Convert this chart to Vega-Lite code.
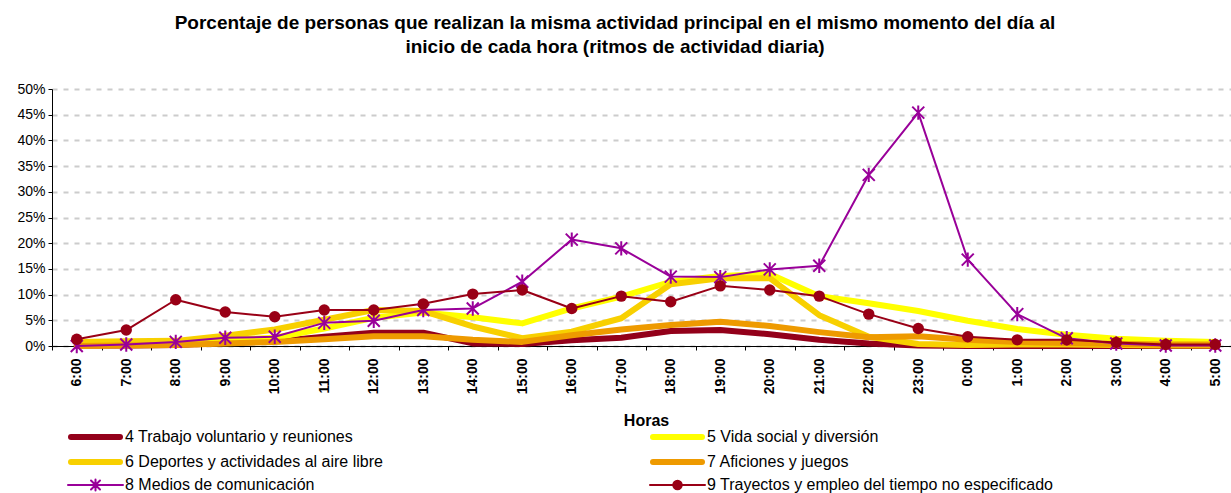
{
  "$schema": "https://vega.github.io/schema/vega-lite/v6.json",
  "width": 1188,
  "height": 257,
  "padding": {"left": 16, "top": 14, "right": 0, "bottom": 0},
  "autosize": {"type": "pad"},
  "background": "#ffffff",
  "title": {
    "text": ["Porcentaje de personas que realizan la misma actividad principal en el mismo momento del día al", "inicio de cada hora (ritmos de actividad diaria)"],
    "font": "Liberation Sans",
    "fontSize": 19,
    "fontWeight": "bold",
    "lineHeight": 24,
    "color": "#000000",
    "dx": -31,
    "offset": 25
  },
  "config": {"view": {"stroke": null}, "font": "Liberation Sans"},
  "data": {"values": [
    {"h":"6:00","s":"4 Trabajo voluntario y reuniones","v":0.1},
    {"h":"7:00","s":"4 Trabajo voluntario y reuniones","v":0.1},
    {"h":"8:00","s":"4 Trabajo voluntario y reuniones","v":0.2},
    {"h":"9:00","s":"4 Trabajo voluntario y reuniones","v":0.6},
    {"h":"10:00","s":"4 Trabajo voluntario y reuniones","v":0.9},
    {"h":"11:00","s":"4 Trabajo voluntario y reuniones","v":1.8},
    {"h":"12:00","s":"4 Trabajo voluntario y reuniones","v":2.6},
    {"h":"13:00","s":"4 Trabajo voluntario y reuniones","v":2.6},
    {"h":"14:00","s":"4 Trabajo voluntario y reuniones","v":0.5},
    {"h":"15:00","s":"4 Trabajo voluntario y reuniones","v":0.4},
    {"h":"16:00","s":"4 Trabajo voluntario y reuniones","v":1.1},
    {"h":"17:00","s":"4 Trabajo voluntario y reuniones","v":1.6},
    {"h":"18:00","s":"4 Trabajo voluntario y reuniones","v":2.9},
    {"h":"19:00","s":"4 Trabajo voluntario y reuniones","v":3.1},
    {"h":"20:00","s":"4 Trabajo voluntario y reuniones","v":2.3},
    {"h":"21:00","s":"4 Trabajo voluntario y reuniones","v":1.2},
    {"h":"22:00","s":"4 Trabajo voluntario y reuniones","v":0.5},
    {"h":"23:00","s":"4 Trabajo voluntario y reuniones","v":0.1},
    {"h":"0:00","s":"4 Trabajo voluntario y reuniones","v":0.0},
    {"h":"1:00","s":"4 Trabajo voluntario y reuniones","v":0.0},
    {"h":"2:00","s":"4 Trabajo voluntario y reuniones","v":0.0},
    {"h":"3:00","s":"4 Trabajo voluntario y reuniones","v":0.0},
    {"h":"4:00","s":"4 Trabajo voluntario y reuniones","v":0.0},
    {"h":"5:00","s":"4 Trabajo voluntario y reuniones","v":0.0},
    {"h":"6:00","s":"5 Vida social y diversión","v":0.5},
    {"h":"7:00","s":"5 Vida social y diversión","v":0.7},
    {"h":"8:00","s":"5 Vida social y diversión","v":0.9},
    {"h":"9:00","s":"5 Vida social y diversión","v":1.2},
    {"h":"10:00","s":"5 Vida social y diversión","v":1.6},
    {"h":"11:00","s":"5 Vida social y diversión","v":3.4},
    {"h":"12:00","s":"5 Vida social y diversión","v":5.5},
    {"h":"13:00","s":"5 Vida social y diversión","v":6.5},
    {"h":"14:00","s":"5 Vida social y diversión","v":5.6},
    {"h":"15:00","s":"5 Vida social y diversión","v":4.4},
    {"h":"16:00","s":"5 Vida social y diversión","v":7.3},
    {"h":"17:00","s":"5 Vida social y diversión","v":9.6},
    {"h":"18:00","s":"5 Vida social y diversión","v":12.5},
    {"h":"19:00","s":"5 Vida social y diversión","v":13.6},
    {"h":"20:00","s":"5 Vida social y diversión","v":14.0},
    {"h":"21:00","s":"5 Vida social y diversión","v":9.7},
    {"h":"22:00","s":"5 Vida social y diversión","v":8.3},
    {"h":"23:00","s":"5 Vida social y diversión","v":6.8},
    {"h":"0:00","s":"5 Vida social y diversión","v":4.9},
    {"h":"1:00","s":"5 Vida social y diversión","v":3.3},
    {"h":"2:00","s":"5 Vida social y diversión","v":2.2},
    {"h":"3:00","s":"5 Vida social y diversión","v":1.4},
    {"h":"4:00","s":"5 Vida social y diversión","v":1.0},
    {"h":"5:00","s":"5 Vida social y diversión","v":0.8},
    {"h":"6:00","s":"6 Deportes y actividades al aire libre","v":0.8},
    {"h":"7:00","s":"6 Deportes y actividades al aire libre","v":0.9},
    {"h":"8:00","s":"6 Deportes y actividades al aire libre","v":1.0},
    {"h":"9:00","s":"6 Deportes y actividades al aire libre","v":2.0},
    {"h":"10:00","s":"6 Deportes y actividades al aire libre","v":3.2},
    {"h":"11:00","s":"6 Deportes y actividades al aire libre","v":5.1},
    {"h":"12:00","s":"6 Deportes y actividades al aire libre","v":7.0},
    {"h":"13:00","s":"6 Deportes y actividades al aire libre","v":6.8},
    {"h":"14:00","s":"6 Deportes y actividades al aire libre","v":3.8},
    {"h":"15:00","s":"6 Deportes y actividades al aire libre","v":1.5},
    {"h":"16:00","s":"6 Deportes y actividades al aire libre","v":2.8},
    {"h":"17:00","s":"6 Deportes y actividades al aire libre","v":5.4},
    {"h":"18:00","s":"6 Deportes y actividades al aire libre","v":12.0},
    {"h":"19:00","s":"6 Deportes y actividades al aire libre","v":13.2},
    {"h":"20:00","s":"6 Deportes y actividades al aire libre","v":13.2},
    {"h":"21:00","s":"6 Deportes y actividades al aire libre","v":6.0},
    {"h":"22:00","s":"6 Deportes y actividades al aire libre","v":1.8},
    {"h":"23:00","s":"6 Deportes y actividades al aire libre","v":0.4},
    {"h":"0:00","s":"6 Deportes y actividades al aire libre","v":0.2},
    {"h":"1:00","s":"6 Deportes y actividades al aire libre","v":0.3},
    {"h":"2:00","s":"6 Deportes y actividades al aire libre","v":0.3},
    {"h":"3:00","s":"6 Deportes y actividades al aire libre","v":0.2},
    {"h":"4:00","s":"6 Deportes y actividades al aire libre","v":0.1},
    {"h":"5:00","s":"6 Deportes y actividades al aire libre","v":0.1},
    {"h":"6:00","s":"7 Aficiones y juegos","v":0.0},
    {"h":"7:00","s":"7 Aficiones y juegos","v":0.1},
    {"h":"8:00","s":"7 Aficiones y juegos","v":0.2},
    {"h":"9:00","s":"7 Aficiones y juegos","v":0.5},
    {"h":"10:00","s":"7 Aficiones y juegos","v":0.8},
    {"h":"11:00","s":"7 Aficiones y juegos","v":1.3},
    {"h":"12:00","s":"7 Aficiones y juegos","v":1.9},
    {"h":"13:00","s":"7 Aficiones y juegos","v":1.9},
    {"h":"14:00","s":"7 Aficiones y juegos","v":1.2},
    {"h":"15:00","s":"7 Aficiones y juegos","v":0.8},
    {"h":"16:00","s":"7 Aficiones y juegos","v":2.1},
    {"h":"17:00","s":"7 Aficiones y juegos","v":3.2},
    {"h":"18:00","s":"7 Aficiones y juegos","v":4.1},
    {"h":"19:00","s":"7 Aficiones y juegos","v":4.7},
    {"h":"20:00","s":"7 Aficiones y juegos","v":3.9},
    {"h":"21:00","s":"7 Aficiones y juegos","v":2.7},
    {"h":"22:00","s":"7 Aficiones y juegos","v":1.7},
    {"h":"23:00","s":"7 Aficiones y juegos","v":1.9},
    {"h":"0:00","s":"7 Aficiones y juegos","v":1.2},
    {"h":"1:00","s":"7 Aficiones y juegos","v":0.8},
    {"h":"2:00","s":"7 Aficiones y juegos","v":0.6},
    {"h":"3:00","s":"7 Aficiones y juegos","v":0.4},
    {"h":"4:00","s":"7 Aficiones y juegos","v":0.3},
    {"h":"5:00","s":"7 Aficiones y juegos","v":0.3},
    {"h":"6:00","s":"8 Medios de comunicación","v":0.0},
    {"h":"7:00","s":"8 Medios de comunicación","v":0.3},
    {"h":"8:00","s":"8 Medios de comunicación","v":0.8},
    {"h":"9:00","s":"8 Medios de comunicación","v":1.6},
    {"h":"10:00","s":"8 Medios de comunicación","v":1.8},
    {"h":"11:00","s":"8 Medios de comunicación","v":4.5},
    {"h":"12:00","s":"8 Medios de comunicación","v":4.9},
    {"h":"13:00","s":"8 Medios de comunicación","v":7.0},
    {"h":"14:00","s":"8 Medios de comunicación","v":7.3},
    {"h":"15:00","s":"8 Medios de comunicación","v":12.5},
    {"h":"16:00","s":"8 Medios de comunicación","v":20.7},
    {"h":"17:00","s":"8 Medios de comunicación","v":19.0},
    {"h":"18:00","s":"8 Medios de comunicación","v":13.5},
    {"h":"19:00","s":"8 Medios de comunicación","v":13.4},
    {"h":"20:00","s":"8 Medios de comunicación","v":14.9},
    {"h":"21:00","s":"8 Medios de comunicación","v":15.6},
    {"h":"22:00","s":"8 Medios de comunicación","v":33.3},
    {"h":"23:00","s":"8 Medios de comunicación","v":45.4},
    {"h":"0:00","s":"8 Medios de comunicación","v":16.8},
    {"h":"1:00","s":"8 Medios de comunicación","v":6.2},
    {"h":"2:00","s":"8 Medios de comunicación","v":1.5},
    {"h":"3:00","s":"8 Medios de comunicación","v":0.5},
    {"h":"4:00","s":"8 Medios de comunicación","v":0.1},
    {"h":"5:00","s":"8 Medios de comunicación","v":0.1},
    {"h":"6:00","s":"9 Trayectos y empleo del tiempo no especificado","v":1.3},
    {"h":"7:00","s":"9 Trayectos y empleo del tiempo no especificado","v":3.1},
    {"h":"8:00","s":"9 Trayectos y empleo del tiempo no especificado","v":9.0},
    {"h":"9:00","s":"9 Trayectos y empleo del tiempo no especificado","v":6.6},
    {"h":"10:00","s":"9 Trayectos y empleo del tiempo no especificado","v":5.7},
    {"h":"11:00","s":"9 Trayectos y empleo del tiempo no especificado","v":7.0},
    {"h":"12:00","s":"9 Trayectos y empleo del tiempo no especificado","v":7.0},
    {"h":"13:00","s":"9 Trayectos y empleo del tiempo no especificado","v":8.2},
    {"h":"14:00","s":"9 Trayectos y empleo del tiempo no especificado","v":10.1},
    {"h":"15:00","s":"9 Trayectos y empleo del tiempo no especificado","v":10.9},
    {"h":"16:00","s":"9 Trayectos y empleo del tiempo no especificado","v":7.3},
    {"h":"17:00","s":"9 Trayectos y empleo del tiempo no especificado","v":9.7},
    {"h":"18:00","s":"9 Trayectos y empleo del tiempo no especificado","v":8.6},
    {"h":"19:00","s":"9 Trayectos y empleo del tiempo no especificado","v":11.7},
    {"h":"20:00","s":"9 Trayectos y empleo del tiempo no especificado","v":10.9},
    {"h":"21:00","s":"9 Trayectos y empleo del tiempo no especificado","v":9.7},
    {"h":"22:00","s":"9 Trayectos y empleo del tiempo no especificado","v":6.2},
    {"h":"23:00","s":"9 Trayectos y empleo del tiempo no especificado","v":3.4},
    {"h":"0:00","s":"9 Trayectos y empleo del tiempo no especificado","v":1.8},
    {"h":"1:00","s":"9 Trayectos y empleo del tiempo no especificado","v":1.2},
    {"h":"2:00","s":"9 Trayectos y empleo del tiempo no especificado","v":1.2},
    {"h":"3:00","s":"9 Trayectos y empleo del tiempo no especificado","v":0.7},
    {"h":"4:00","s":"9 Trayectos y empleo del tiempo no especificado","v":0.3},
    {"h":"5:00","s":"9 Trayectos y empleo del tiempo no especificado","v":0.3}
  ]},
  "encoding": {
    "x": {
      "field": "h",
      "type": "ordinal",
      "sort": ["6:00","7:00","8:00","9:00","10:00","11:00","12:00","13:00","14:00","15:00","16:00","17:00","18:00","19:00","20:00","21:00","22:00","23:00","0:00","1:00","2:00","3:00","4:00","5:00"],
      "scale": {"type": "band", "paddingInner": 0, "paddingOuter": 0},
      "bandPosition": 0.5,
      "axis": {
        "title": "Horas",
        "labelAngle": 270,
        "tickBand": "extent",
        "domainColor": "#000000",
        "domainWidth": 1,
        "tickColor": "#000000",
        "tickSize": 4,
        "labelFont": "Liberation Sans",
        "labelFontSize": 14,
        "labelFontWeight": "bold",
        "labelColor": "#000000",
        "labelPadding": 8,
        "titleFont": "Liberation Sans",
        "titleFontSize": 16,
        "titleFontWeight": "bold",
        "titleColor": "#000000",
        "titlePadding": 19,
        "grid": false
      }
    },
    "y": {
      "field": "v",
      "type": "quantitative",
      "scale": {"domain": [0, 50]},
      "axis": {
        "title": null,
        "values": [0, 5, 10, 15, 20, 25, 30, 35, 40, 45, 50],
        "labelExpr": "datum.value + '%'",
        "grid": true,
        "gridColor": "#cccccc",
        "gridDash": [5, 6],
        "gridWidth": 2,
        "domainColor": "#000000",
        "tickColor": "#000000",
        "tickSize": 4,
        "labelFont": "Liberation Sans",
        "labelFontSize": 14,
        "labelColor": "#000000",
        "labelPadding": 3
      }
    },
    "color": {
      "field": "s",
      "type": "nominal",
      "scale": {
        "domain": ["4 Trabajo voluntario y reuniones", "5 Vida social y diversión", "6 Deportes y actividades al aire libre", "7 Aficiones y juegos", "8 Medios de comunicación", "9 Trayectos y empleo del tiempo no especificado"],
        "range": ["#93001a", "#ffff00", "#f8d000", "#ee9a00", "#990099", "#990016"]
      },
      "legend": {
        "title": null,
        "orient": "none",
        "legendX": 13,
        "legendY": 340,
        "columns": 2,
        "direction": "horizontal",
        "gridAlign": "each",
        "columnPadding": 258,
        "rowPadding": 1,
        "padding": 0,
        "symbolSize": 100,
        "symbolOffset": 0,
        "labelOffset": 44,
        "labelFont": "Liberation Sans",
        "labelFontSize": 16,
        "labelColor": "#000000",
        "labelLimit": 600,
        "encode": {
          "symbols": {
            "update": {
              "shape": {"signal": "datum.value == '8 Medios de comunicación' ? 'M-1,0H10M3.6,-0.9L5.4,0.9M3.6,0.9L5.4,-0.9M4.5,-1.1V1.1' : datum.value == '9 Trayectos y empleo del tiempo no especificado' ? 'M-1,0H10M3.65,0A0.85,0.85 0 1,1 5.35,0A0.85,0.85 0 1,1 3.65,0Z' : 'M-0.4,0H9.4'"},
              "stroke": {"scale": "color", "field": "value"},
              "fill": {"signal": "datum.value == '9 Trayectos y empleo del tiempo no especificado' ? scale('color', datum.value) : 'transparent'"},
              "strokeWidth": {"signal": "(datum.value == '8 Medios de comunicación' || datum.value == '9 Trayectos y empleo del tiempo no especificado') ? 2 : 6"},
              "strokeCap": {"value": "round"},
              "opacity": {"value": 1}
            }
          }
        }
      }
    }
  },
  "layer": [
    {
      "transform": [{"filter": {"field": "s", "oneOf": ["4 Trabajo voluntario y reuniones", "5 Vida social y diversión", "6 Deportes y actividades al aire libre", "7 Aficiones y juegos"]}}],
      "mark": {"type": "line", "strokeWidth": 6, "strokeCap": "round", "strokeJoin": "round"},
      "encoding": {"order": {"value": null}}
    },
    {
      "transform": [{"filter": {"field": "s", "oneOf": ["8 Medios de comunicación", "9 Trayectos y empleo del tiempo no especificado"]}}],
      "mark": {"type": "line", "strokeWidth": 2, "strokeJoin": "round"},
      "encoding": {"order": {"value": null}}
    },
    {
      "transform": [{"filter": "datum.s == '8 Medios de comunicación'"}],
      "mark": {"type": "point", "shape": "M-1,-1L1,1M-1,1L1,-1M0,-1.2V1.2", "filled": false, "size": 144, "strokeWidth": 2, "opacity": 1},
      "encoding": {}
    },
    {
      "transform": [{"filter": "datum.s == '9 Trayectos y empleo del tiempo no especificado'"}],
      "mark": {"type": "circle", "size": 130, "opacity": 1},
      "encoding": {}
    }
  ]
}
